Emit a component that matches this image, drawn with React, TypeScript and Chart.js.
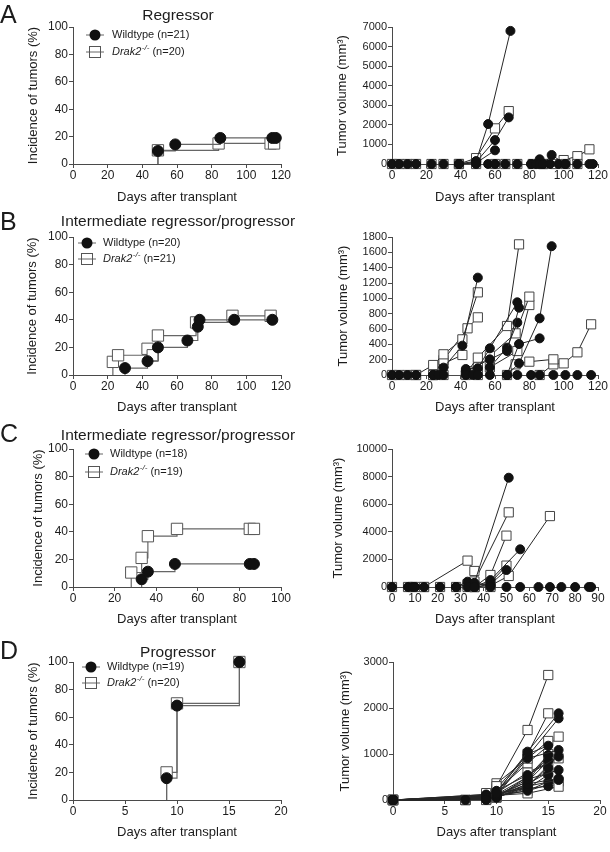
import React, { useEffect, useRef } from "react";
import { Chart, registerables } from "chart.js";

Chart.register(...registerables);

const FONT = "'Liberation Sans', Arial, Helvetica, sans-serif";
const INK = "#1c1c1c";
const AXIS = "#4a4a4a";
const STEP = "#666666";
const VOL_LINE = "#262626";

// ---------------- Incidence (left column): days and % tumours ----------------
const aIncWtDays = [49, 49, 59, 85, 115, 117];
const aIncWtPct = [0, 9.5, 14.3, 19.0, 19.0, 19.0];
const aIncKoDays = [49, 49, 84, 114, 116];
const aIncKoPct = [0, 10, 15, 15, 15];

const bIncWtDays = [30, 30, 43, 49, 66, 72, 73, 93, 115];
const bIncWtPct = [0, 5, 10, 20, 25, 35, 40, 40, 40];
const bIncKoDays = [23, 23, 26, 43, 46, 49, 71, 92, 114];
const bIncKoPct = [0, 9.5, 14.3, 19.0, 14.3, 28.6, 38.1, 42.9, 42.9];

const cIncWtDays = [33, 33, 36, 49, 85, 87];
const cIncWtPct = [0, 5.6, 11.1, 16.7, 16.7, 16.7];
const cIncKoDays = [28, 28, 33, 36, 50, 85, 87];
const cIncKoPct = [0, 10.5, 21.1, 36.8, 42.1, 42.1, 42.1];

const dIncWtDays = [9, 9, 10, 16];
const dIncWtPct = [0, 15.8, 68.4, 100];
const dIncKoDays = [9, 9, 10, 16];
const dIncKoPct = [0, 20, 70, 100];

// ---------------- Tumour volume (right column) ----------------
type Mouse = [number, number][];

const aVolWtZeroDays = [0, 4, 9, 14, 23, 30, 39, 49, 56, 60, 66, 73, 81, 84, 86, 88, 92, 97, 101, 108, 115, 117];
const aVolKoZeroDays = [0, 4, 9, 14, 23, 30, 39, 49, 60, 66, 73, 82, 88, 95, 101, 108];
const aVolWtMice: Mouse[] = [
  [[39, 0], [49, 150], [56, 2040], [69, 6800]],
  [[39, 0], [49, 100], [60, 1220], [68, 2380]],
  [[39, 0], [49, 50], [60, 700]],
  [[81, 0], [86, 240]],
  [[88, 0], [93, 460], [101, 0]],
];
const aVolKoMice: Mouse[] = [
  [[39, 0], [49, 300], [60, 1820], [68, 2700]],
  [[88, 0], [100, 200], [108, 400], [115, 750]],
];

const bVolWtZeroDays = [0, 4, 9, 14, 24, 27, 30, 43, 47, 50, 57, 67, 73, 81, 86, 94, 101, 108, 116];
const bVolKoZeroDays = [0, 4, 9, 14, 24, 30, 43, 50];
const bVolWtMice: Mouse[] = [
  [[24, 0], [30, 96], [41, 383], [50, 1270]],
  [[43, 78], [50, 87], [57, 348], [73, 948]],
  [[43, 50], [57, 204], [67, 313], [74, 878]],
  [[57, 100], [67, 357], [73, 683]],
  [[67, 0], [74, 152], [86, 739], [93, 1680]],
  [[67, 0], [74, 404], [86, 478]],
];
const bVolKoMice: Mouse[] = [
  [[14, 0], [24, 130], [30, 270], [41, 465], [50, 1078]],
  [[24, 0], [30, 196], [44, 609], [50, 752]],
  [[24, 0], [30, 150], [41, 261]],
  [[44, 50], [50, 226], [67, 639], [74, 1704]],
  [[50, 100], [57, 250], [72, 543], [80, 1022]],
  [[57, 100], [73, 313], [80, 913]],
  [[67, 0], [72, 139], [80, 174], [94, 204]],
  [[86, 0], [94, 139], [100, 152], [108, 296], [116, 661]],
];

const cVolWtZeroDays = [0, 7, 9, 10, 14, 21, 28, 33, 36, 43, 50, 56, 64, 69, 74, 80, 86, 87];
const cVolKoZeroDays = [0, 7, 9, 10, 14, 21, 28, 33, 36, 43];
const cVolWtMice: Mouse[] = [
  [[28, 0], [36, 300], [51, 7920]],
  [[36, 0], [43, 500], [56, 2730]],
  [[36, 0], [43, 200], [50, 1230]],
  [[28, 0], [33, 386], [43, 100]],
];
const cVolKoMice: Mouse[] = [
  [[14, 0], [33, 1910], [36, 1160]],
  [[33, 200], [36, 400], [51, 5410]],
  [[36, 0], [43, 870], [50, 3720]],
  [[36, 100], [43, 300], [50, 1550]],
  [[36, 0], [43, 100], [51, 800], [69, 5140]],
];

const dVolWtZeroDays = [0, 7, 9];
const dVolKoZeroDays = [0, 7, 9];
const dVolWtMice: Mouse[] = [
  [[0, 0], [9, 100], [10, 150], [13, 1051], [16, 1884]],
  [[0, 0], [9, 80], [10, 120], [13, 950], [16, 1775]],
  [[0, 0], [9, 60], [10, 100], [13, 906], [16, 1087]],
  [[0, 0], [9, 120], [10, 200], [13, 543], [16, 942]],
  [[0, 0], [9, 50], [10, 90], [13, 450], [16, 652]],
  [[0, 0], [9, 40], [10, 80], [13, 350], [16, 471]],
  [[0, 0], [9, 70], [10, 130], [13, 300], [16, 435]],
  [[0, 0], [9, 90], [10, 180], [13, 1000], [15, 1181]],
  [[0, 0], [9, 30], [10, 60], [13, 500], [15, 978]],
  [[0, 0], [9, 60], [10, 110], [13, 400], [15, 850]],
  [[0, 0], [9, 20], [10, 50], [13, 300], [15, 700]],
  [[0, 0], [9, 100], [10, 150], [13, 250], [15, 550]],
  [[0, 0], [9, 50], [10, 100], [13, 200], [15, 400]],
  [[0, 0], [9, 40], [10, 70], [13, 250], [15, 300]],
];
const dVolKoMice: Mouse[] = [
  [[0, 0], [7, 0], [9, 150], [10, 300], [13, 1522], [15, 2717]],
  [[0, 0], [7, 0], [9, 100], [10, 250], [13, 1000], [15, 1884]],
  [[0, 0], [9, 120], [10, 362], [13, 900], [15, 1283]],
  [[0, 0], [9, 80], [10, 200], [13, 800], [16, 1377]],
  [[0, 0], [9, 60], [10, 150], [13, 600], [16, 906]],
  [[0, 0], [9, 50], [10, 100], [13, 145], [16, 290]],
  [[0, 0], [7, 0], [9, 40], [10, 80], [13, 400], [15, 1000]],
  [[0, 0], [9, 20], [10, 60], [13, 300], [15, 750]],
  [[0, 0], [9, 70], [10, 120], [13, 500], [15, 900]],
  [[0, 0], [9, 30], [10, 90], [13, 200], [16, 400]],
  [[0, 0], [9, 10], [10, 50], [13, 350], [15, 600]],
];

// legend labels
const aWtN = "(n=21)";
const aKoN = "(n=20)";
const bWtN = "(n=20)";
const bKoN = "(n=21)";
const cWtN = "(n=18)";
const cKoN = "(n=19)";
const dWtN = "(n=19)";
const dKoN = "(n=20)";

const panelLetters = ["A", "B", "C", "D"];
const panelTitles = ["Regressor", "Intermediate regressor/progressor", "Intermediate regressor/progressor", "Progressor"];

// ---------------- helpers ----------------
const zip = (xs: number[], ys: number[]) => xs.map((x, i) => ({ x, y: ys[i] }));

function incidenceDatasets(wtD: number[], wtP: number[], koD: number[], koP: number[]) {
  const common = { stepped: "before" as const, borderColor: STEP, borderWidth: 1.2, clip: false, fill: false };
  return [
    {
      ...common,
      data: zip(wtD, wtP),
      pointStyle: "circle",
      pointRadius: (c: any) => (c.dataIndex === 0 ? 0 : 5.5),
      pointBackgroundColor: "#111",
      pointBorderColor: "#111",
      pointBorderWidth: 1,
    },
    {
      ...common,
      data: zip(koD, koP),
      pointStyle: "rect",
      pointRadius: (c: any) => (c.dataIndex === 0 ? 0 : 8),
      pointBackgroundColor: "#fff",
      pointBorderColor: "#555",
      pointBorderWidth: 1,
    },
  ];
}

function volumeDatasets(wtZero: number[], koZero: number[], wtMice: Mouse[], koMice: Mouse[]) {
  const circ = { pointStyle: "circle", pointRadius: 4.5, pointBackgroundColor: "#111", pointBorderColor: "#111", pointBorderWidth: 1, clip: false };
  const sq = { pointStyle: "rect", pointRadius: 6.5, pointBackgroundColor: "#fff", pointBorderColor: "#444", pointBorderWidth: 1, clip: false };
  const line = { showLine: true, borderColor: VOL_LINE, borderWidth: 1, fill: false };
  const ds: any[] = [];
  ds.push({ ...circ, showLine: false, data: wtZero.map((x) => ({ x, y: 0 })) });
  wtMice.forEach((m) => ds.push({ ...circ, ...line, data: m.map(([x, y]) => ({ x, y })) }));
  ds.push({ ...sq, showLine: false, data: koZero.map((x) => ({ x, y: 0 })) });
  koMice.forEach((m) => ds.push({ ...sq, ...line, data: m.map(([x, y]) => ({ x, y })) }));
  return ds;
}

interface LegendSpec {
  mx: number;
  tx: number;
  y1: number;
  y2: number;
  wtN: string;
  koN: string;
}

function makeLegendPlugin(lg: LegendSpec, offX: number, offY: number) {
  return {
    id: "kmLegend",
    afterDraw(chart: any) {
      const ctx = chart.ctx as CanvasRenderingContext2D;
      ctx.save();
      const mx = lg.mx - offX;
      const tx = lg.tx - offX;
      // wildtype
      let cy = lg.y1 - offY;
      ctx.strokeStyle = STEP;
      ctx.lineWidth = 1;
      ctx.beginPath();
      ctx.moveTo(mx - 9, cy);
      ctx.lineTo(mx + 9, cy);
      ctx.stroke();
      ctx.fillStyle = "#111";
      ctx.beginPath();
      ctx.arc(mx, cy, 5.5, 0, Math.PI * 2);
      ctx.fill();
      ctx.textBaseline = "middle";
      ctx.fillStyle = INK;
      ctx.font = `11px ${FONT}`;
      ctx.fillText(`Wildtype ${lg.wtN}`, tx, cy);
      // knockout
      cy = lg.y2 - offY;
      ctx.fillStyle = "#fff";
      ctx.fillRect(mx - 5.5, cy - 5.5, 11, 11);
      ctx.strokeStyle = STEP;
      ctx.beginPath();
      ctx.moveTo(mx - 9, cy);
      ctx.lineTo(mx + 9, cy);
      ctx.stroke();
      ctx.strokeStyle = "#555";
      ctx.strokeRect(mx - 5.5, cy - 5.5, 11, 11);
      ctx.fillStyle = INK;
      let x = tx;
      ctx.font = `italic 11px ${FONT}`;
      ctx.fillText("Drak2", x, cy);
      x += ctx.measureText("Drak2").width + 0.5;
      ctx.font = `italic 8px ${FONT}`;
      ctx.fillText("-/-", x, cy - 4);
      x += ctx.measureText("-/-").width;
      ctx.font = `11px ${FONT}`;
      ctx.fillText(` ${lg.koN}`, x, cy);
      ctx.restore();
    },
  };
}

interface PanelSpec {
  left: number;
  top: number;
  width: number;
  height: number;
  cl: number;
  cr: number;
  ct: number;
  cb: number;
  yTitleX: number;
  xMax: number;
  xStep: number;
  yMax: number;
  yStep: number;
  yTitle: string;
  yTickSize: number;
  datasets: any[];
  legend?: LegendSpec;
}

const PANELS: PanelSpec[] = [
  {
    left: 0, top: 0, width: 305, height: 205, cl: 73, cr: 281, ct: 27, cb: 164, yTitleX: 33,
    xMax: 120, xStep: 20, yMax: 100, yStep: 20, yTitle: "Incidence of tumors (%)", yTickSize: 12,
    datasets: incidenceDatasets(aIncWtDays, aIncWtPct, aIncKoDays, aIncKoPct),
    legend: { mx: 95, tx: 112, y1: 35, y2: 52, wtN: aWtN, koN: aKoN },
  },
  {
    left: 305, top: 0, width: 305, height: 205, cl: 392, cr: 598, ct: 27, cb: 164, yTitleX: 342,
    xMax: 120, xStep: 20, yMax: 7000, yStep: 1000, yTitle: "Tumor volume (mm³)", yTickSize: 11,
    datasets: volumeDatasets(aVolWtZeroDays, aVolKoZeroDays, aVolWtMice, aVolKoMice),
  },
  {
    left: 0, top: 205, width: 305, height: 210, cl: 73, cr: 281, ct: 237, cb: 375, yTitleX: 32,
    xMax: 120, xStep: 20, yMax: 100, yStep: 20, yTitle: "Incidence of tumors (%)", yTickSize: 12,
    datasets: incidenceDatasets(bIncWtDays, bIncWtPct, bIncKoDays, bIncKoPct),
    legend: { mx: 87, tx: 103, y1: 243, y2: 259, wtN: bWtN, koN: bKoN },
  },
  {
    left: 305, top: 205, width: 305, height: 210, cl: 392, cr: 598, ct: 237, cb: 375, yTitleX: 343,
    xMax: 120, xStep: 20, yMax: 1800, yStep: 200, yTitle: "Tumor volume (mm³)", yTickSize: 11,
    datasets: volumeDatasets(bVolWtZeroDays, bVolKoZeroDays, bVolWtMice, bVolKoMice),
  },
  {
    left: 0, top: 415, width: 305, height: 212, cl: 73, cr: 281, ct: 449, cb: 587, yTitleX: 38,
    xMax: 100, xStep: 20, yMax: 100, yStep: 20, yTitle: "Incidence of tumors (%)", yTickSize: 12,
    datasets: incidenceDatasets(cIncWtDays, cIncWtPct, cIncKoDays, cIncKoPct),
    legend: { mx: 94, tx: 110, y1: 454, y2: 472, wtN: cWtN, koN: cKoN },
  },
  {
    left: 305, top: 415, width: 305, height: 212, cl: 392, cr: 598, ct: 449, cb: 587, yTitleX: 338,
    xMax: 90, xStep: 10, yMax: 10000, yStep: 2000, yTitle: "Tumor volume (mm³)", yTickSize: 11,
    datasets: volumeDatasets(cVolWtZeroDays, cVolKoZeroDays, cVolWtMice, cVolKoMice),
  },
  {
    left: 0, top: 630, width: 305, height: 210, cl: 73, cr: 281, ct: 662, cb: 800, yTitleX: 33,
    xMax: 20, xStep: 5, yMax: 100, yStep: 20, yTitle: "Incidence of tumors (%)", yTickSize: 12,
    datasets: incidenceDatasets(dIncWtDays, dIncWtPct, dIncKoDays, dIncKoPct),
    legend: { mx: 91, tx: 107, y1: 667, y2: 683, wtN: dWtN, koN: dKoN },
  },
  {
    left: 305, top: 630, width: 305, height: 210, cl: 393, cr: 600, ct: 662, cb: 800, yTitleX: 345,
    xMax: 20, xStep: 5, yMax: 3000, yStep: 1000, yTitle: "Tumor volume (mm³)", yTickSize: 11,
    datasets: volumeDatasets(dVolWtZeroDays, dVolKoZeroDays, dVolWtMice, dVolKoMice),
  },
];

const plainNumber = (v: any) => String(v);

function buildConfig(p: PanelSpec): any {
  const half = 13 * 1.2 / 2;
  const pl = p.yTitleX - half - p.left;
  const yW = p.cl - p.left - pl;
  const pt = p.ct - p.top;
  const pr = p.left + p.width - p.cr;
  const xH = p.top + p.height - p.cb;
  const gridOpts = { display: true, drawOnChartArea: false, drawTicks: true, tickLength: 4, tickColor: AXIS, lineWidth: 1 };
  const borderOpts = { display: true, color: AXIS, width: 1 };
  return {
    type: "line",
    data: { datasets: p.datasets },
    options: {
      animation: false,
      responsive: false,
      maintainAspectRatio: false,
      events: [],
      layout: { padding: { left: pl, top: pt, right: pr, bottom: 0 } },
      elements: { line: { tension: 0 } },
      plugins: { legend: { display: false }, tooltip: { enabled: false }, title: { display: false } },
      scales: {
        x: {
          type: "linear",
          min: 0,
          max: p.xMax,
          ticks: { stepSize: p.xStep, color: INK, font: { size: 12, family: FONT }, padding: 0, maxRotation: 0, autoSkip: false, callback: plainNumber },
          grid: gridOpts,
          border: borderOpts,
          title: { display: true, text: "Days after transplant", color: INK, font: { size: 13, family: FONT, lineHeight: 1.2 }, padding: 0 },
          afterFit: (s: any) => {
            s.height = xH;
          },
        },
        y: {
          type: "linear",
          min: 0,
          max: p.yMax,
          ticks: { stepSize: p.yStep, color: INK, font: { size: p.yTickSize, family: FONT }, padding: 1, autoSkip: false, callback: plainNumber },
          grid: gridOpts,
          border: borderOpts,
          title: { display: true, text: p.yTitle, color: INK, font: { size: 13, family: FONT, lineHeight: 1.2 }, padding: 0 },
          afterFit: (s: any) => {
            s.width = yW;
          },
        },
      },
    },
    plugins: p.legend ? [makeLegendPlugin(p.legend, p.left, p.top)] : [],
  };
}

function ChartPanel({ spec }: { spec: PanelSpec }) {
  const ref = useRef<HTMLCanvasElement | null>(null);
  useEffect(() => {
    if (!ref.current) return;
    const chart = new Chart(ref.current, buildConfig(spec));
    return () => chart.destroy();
  }, [spec]);
  return (
    <canvas
      ref={ref}
      width={spec.width}
      height={spec.height}
      style={{ position: "absolute", left: spec.left, top: spec.top, width: spec.width, height: spec.height }}
    />
  );
}

const letterCenters = [14, 221.5, 433.5, 650];
const titleCenters = [15, 221, 435, 651.7];

export default function App() {
  Chart.defaults.font.family = FONT;
  return (
    <div style={{ position: "absolute", left: 0, top: 0, width: 610, height: 852, background: "#fff", fontFamily: FONT, color: INK, overflow: "hidden" }}>
      {PANELS.map((p, i) => (
        <ChartPanel key={i} spec={p} />
      ))}
      {panelLetters.map((t, i) => (
        <div key={"l" + i} style={{ position: "absolute", left: 0, top: letterCenters[i] - 0.4885 * 25, fontSize: 25, lineHeight: "25px", whiteSpace: "nowrap" }}>
          {t}
        </div>
      ))}
      {panelTitles.map((t, i) => (
        <div
          key={"t" + i}
          style={{ position: "absolute", left: 178 - 150, width: 300, textAlign: "center", top: titleCenters[i] - 0.4885 * 15.5, fontSize: 15.5, lineHeight: "15.5px", whiteSpace: "nowrap" }}
        >
          {t}
        </div>
      ))}
    </div>
  );
}
